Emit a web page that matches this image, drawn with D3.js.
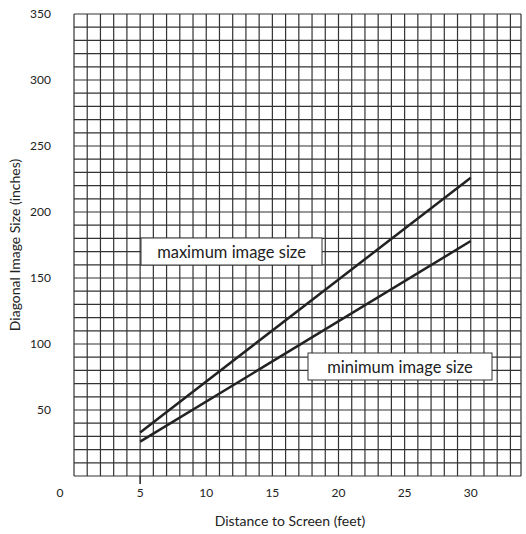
<!DOCTYPE html><html><head><script src="https://cdn.jsdelivr.net/npm/d3@7"></script>
<style>body{margin:0;background:#fff}text{font-family:Lato,"Open Sans",sans-serif;fill:#222}</style></head><body><svg width="526" height="534"></svg>
<script>
const xTicks=[0,5,10,15,20,25,30];
const yTicks=[50,100,150,200,250,300,350];
const distance=[5,30];
const maxSize=[33,226];
const minSize=[26,178];
const svg=d3.select("svg");
const x=d3.scaleLinear().domain([0,33.8]).range([74,521]);
const y=d3.scaleLinear().domain([0,350]).range([476,14]);
const g=svg.append("g");
g.selectAll(".v").data(d3.range(0,34)).join("line").attr("x1",d=>x(d)).attr("x2",d=>x(d)).attr("y1",y(0)).attr("y2",y(350)).attr("stroke","#333").attr("stroke-width",1.2);
g.append("line").attr("x1",x(33.8)).attr("x2",x(33.8)).attr("y1",y(0)).attr("y2",y(350)).attr("stroke","#333").attr("stroke-width",1.2);
g.selectAll(".h").data(d3.range(0,351,10)).join("line").attr("y1",d=>y(d)).attr("y2",d=>y(d)).attr("x1",x(0)).attr("x2",x(33.8)).attr("stroke","#333").attr("stroke-width",1.2);
g.append("line").attr("x1",x(5)).attr("x2",x(5)).attr("y1",y(0)).attr("y2",y(0)+8).attr("stroke","#222").attr("stroke-width",1.5);
svg.selectAll(".xt").data(xTicks).join("text").attr("x",d=>d===0?60:x(d)).attr("y",497).attr("text-anchor","middle").attr("font-size",12).text(d=>d);
svg.selectAll(".yt").data(yTicks).join("text").attr("x",51).attr("y",d=>y(d)+4).attr("text-anchor","end").attr("font-size",12).text(d=>d);
svg.append("text").attr("x",290).attr("y",526).attr("text-anchor","middle").attr("font-size",14).text("Distance to Screen (feet)");
svg.append("text").attr("transform","translate(20,245) rotate(-90)").attr("text-anchor","middle").attr("font-size",14).text("Diagonal Image Size (inches)");
const line=d3.line().x((d,i)=>x(distance[i])).y(d=>y(d));
[maxSize,minSize].forEach(s=>svg.append("path").attr("d",line(s)).attr("fill","none").attr("stroke","#222").attr("stroke-width",2.5));
function box(x0,y0,w,h,t){svg.append("rect").attr("x",x0).attr("y",y0).attr("width",w).attr("height",h).attr("fill","#fff").attr("stroke","#333");
svg.append("text").attr("x",x0+w/2).attr("y",y0+h/2+6).attr("text-anchor","middle").attr("font-size",16.5).text(t);}
box(141,238,181,27,"maximum image size");
box(308,353,184,27,"minimum image size");
</script></body></html>
